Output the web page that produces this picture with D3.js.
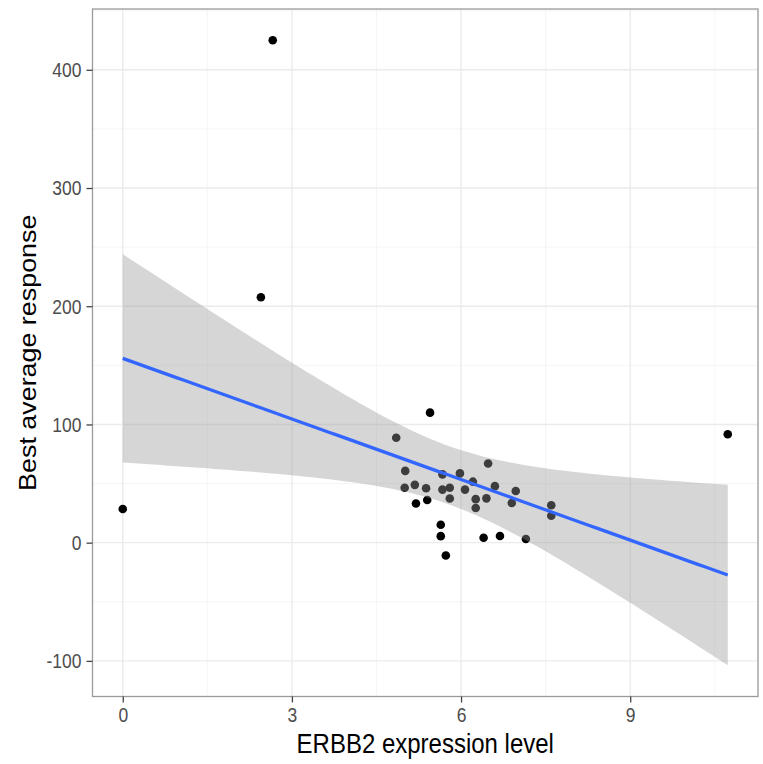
<!DOCTYPE html>
<html>
<head>
<meta charset="utf-8">
<script src="https://cdn.jsdelivr.net/npm/d3@7"></script>
<style>
  html, body { margin: 0; padding: 0; background: #fff; }
  svg { display: block; }
  text { font-family: "Liberation Sans", Arial, Helvetica, sans-serif; }
</style>
</head>
<body>
<svg id="chart" width="763" height="764"></svg>
<script>
// ERBB2 expression level vs best average response
const expression = [
  0.00, 2.45, 2.66, 10.73,
  5.45, 4.85, 5.01, 5.00, 5.18, 5.20, 5.38, 5.40, 5.67, 5.67,
  5.80, 5.80, 5.98, 6.07, 6.21, 6.26, 6.26, 6.45, 6.48, 6.60,
  6.90, 6.97, 7.60, 7.60, 5.64, 5.64, 5.73, 6.40, 6.69, 7.15
];
const response = [
  28.5, 207.6, 425.0, 91.7,
  110.0, 88.7, 60.7, 46.4, 48.9, 33.1, 46.0, 36.1, 57.8, 44.9,
  46.5, 37.3, 58.6, 44.9, 51.6, 36.8, 29.3, 37.5, 67.0, 47.8,
  33.6, 43.7, 31.6, 22.8, 15.2, 5.5, -10.8, 4.2, 5.7, 3.1
];
const xTicks = [0, 3, 6, 9];
const yTicks = [-100, 0, 100, 200, 300, 400];
const xTitle = "ERBB2 expression level";
const yTitle = "Best average response";

// Student t quantile, 0.975, df = 32 (95% band for a straight-line fit)
const tCrit = 2.0369;

const points = expression.map((x, i) => ({ x, y: response[i] }));

// ordinary least-squares fit with its confidence band
const n = points.length;
const xbar = d3.mean(points, d => d.x);
const ybar = d3.mean(points, d => d.y);
const sxx = d3.sum(points, d => (d.x - xbar) ** 2);
const sxy = d3.sum(points, d => (d.x - xbar) * (d.y - ybar));
const slope = sxy / sxx;
const intercept = ybar - slope * xbar;
const sse = d3.sum(points, d => (d.y - intercept - slope * d.x) ** 2);
const sigma = Math.sqrt(sse / (n - 2));
const [xMin, xMax] = d3.extent(expression);
const fit = d3.range(80).map(i => {
  const x = xMin + (xMax - xMin) * i / 79;
  const yhat = intercept + slope * x;
  const se = sigma * Math.sqrt(1 / n + (x - xbar) ** 2 / sxx);
  return { x, y: yhat, lo: yhat - tCrit * se, hi: yhat + tCrit * se };
});

const svg = d3.select("#chart");
const W = 763, H = 764;
const margin = { top: 9, right: 5, bottom: 67.5, left: 92.5 };
const pw = W - margin.left - margin.right;
const ph = H - margin.top - margin.bottom;
const stretch = 1.12;

function expand(lo, hi, m) { const r = hi - lo; return [lo - r * m, hi + r * m]; }
const xDom = expand(xMin, xMax, 0.05);
const yLo = Math.min(d3.min(response), d3.min(fit, d => d.lo));
const yHi = Math.max(d3.max(response), d3.max(fit, d => d.hi));
const yDom = expand(yLo, yHi, 0.05);

const x = d3.scaleLinear().domain(xDom).range([0, pw]);
const y = d3.scaleLinear().domain(yDom).range([ph, 0]);

const g = svg.append("g").attr("transform", `translate(${margin.left},${margin.top})`);

g.append("rect").attr("width", pw).attr("height", ph).attr("fill", "#fff");

// minor grid lines
const xMinor = d3.range(-1.5, 12, 3).filter(v => v > xDom[0] && v < xDom[1]);
const yMinor = d3.range(-150, 500, 100).filter(v => v > yDom[0] && v < yDom[1]);
g.append("g").selectAll("line").data(xMinor).join("line")
  .attr("x1", d => x(d)).attr("x2", d => x(d)).attr("y1", 0).attr("y2", ph)
  .attr("stroke", "#f2f2f2").attr("stroke-width", 0.8);
g.append("g").selectAll("line").data(yMinor).join("line")
  .attr("y1", d => y(d)).attr("y2", d => y(d)).attr("x1", 0).attr("x2", pw)
  .attr("stroke", "#f2f2f2").attr("stroke-width", 0.8);
// major grid lines
g.append("g").selectAll("line").data(xTicks).join("line")
  .attr("x1", d => x(d)).attr("x2", d => x(d)).attr("y1", 0).attr("y2", ph)
  .attr("stroke", "#ebebeb").attr("stroke-width", 1.4);
g.append("g").selectAll("line").data(yTicks).join("line")
  .attr("y1", d => y(d)).attr("y2", d => y(d)).attr("x1", 0).attr("x2", pw)
  .attr("stroke", "#ebebeb").attr("stroke-width", 1.4);

// points
g.append("g").selectAll("circle").data(points).join("circle")
  .attr("cx", d => x(d.x)).attr("cy", d => y(d.y)).attr("r", 4.3)
  .attr("fill", "#000");

// confidence band and fitted line
g.append("path").datum(fit)
  .attr("d", d3.area().x(d => x(d.x)).y0(d => y(d.lo)).y1(d => y(d.hi)))
  .attr("fill", "#999999").attr("fill-opacity", 0.4);
g.append("path").datum(fit)
  .attr("d", d3.line().x(d => x(d.x)).y(d => y(d.y)))
  .attr("fill", "none").attr("stroke", "#3366FF").attr("stroke-width", 3.3);

// panel border
g.append("rect").attr("width", pw).attr("height", ph)
  .attr("fill", "none").attr("stroke", "#9a9a9a").attr("stroke-width", 1.3);

// axes (plain hyphen for negative numbers)
const plain = d => String(d);
const xAxis = g.append("g").attr("transform", `translate(0,${ph})`)
  .call(d3.axisBottom(x).tickValues(xTicks).tickSize(6).tickPadding(4).tickFormat(plain));
const yAxis = g.append("g")
  .call(d3.axisLeft(y).tickValues(yTicks).tickSize(6).tickPadding(5).tickFormat(plain));
[xAxis, yAxis].forEach(a => {
  a.select(".domain").remove();
  a.selectAll(".tick line").attr("stroke", "#444").attr("stroke-width", 1.3);
  a.selectAll(".tick text").attr("fill", "#4d4d4d").attr("font-size", 17.5)
    .attr("transform", `scale(1,${stretch})`);
});
xAxis.selectAll(".tick text").attr("dy", null).attr("dominant-baseline", "hanging");
yAxis.selectAll(".tick text").attr("dy", "0.35em").attr("y", 0);

// axis titles
svg.append("text")
  .attr("transform", `translate(${margin.left + pw / 2},${H - 11}) scale(1,${stretch})`)
  .attr("text-anchor", "middle").attr("font-size", 24).attr("fill", "#000")
  .text(xTitle);
svg.append("text")
  .attr("transform", `translate(36,${margin.top + ph / 2}) scale(1,${stretch}) rotate(-90)`)
  .attr("text-anchor", "middle").attr("font-size", 24).attr("fill", "#000")
  .text(yTitle);
</script>
</body>
</html>
